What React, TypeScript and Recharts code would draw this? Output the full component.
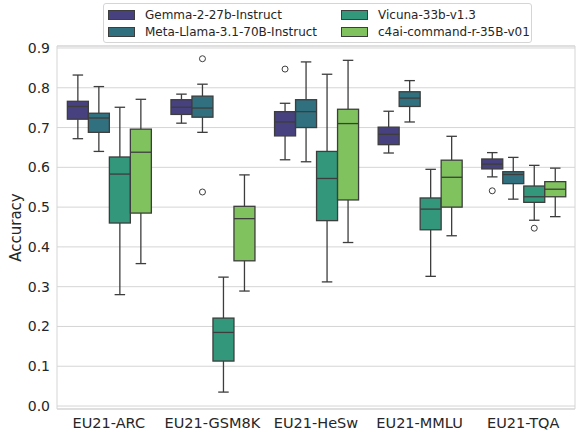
import React from 'react';
import { ComposedChart, Bar, XAxis, YAxis, CartesianGrid } from 'recharts';

const categories = ['EU21-ARC', 'EU21-GSM8K', 'EU21-HeSw', 'EU21-MMLU', 'EU21-TQA'];
const seriesNames = ['Gemma-2-27b-Instruct', 'Meta-Llama-3.1-70B-Instruct', 'Vicuna-33b-v1.3', 'c4ai-command-r-35B-v01'];
const seriesColors = ['#47417f', '#31707f', '#33977b', '#80c35e'];
const yTicks = [0, 0.1, 0.2, 0.3, 0.4, 0.5, 0.6, 0.7, 0.8, 0.9];

// [lower whisker, Q1, median, Q3, upper whisker]
const gemmaStats = [
  [0.672, 0.721, 0.753, 0.766, 0.832],
  [0.711, 0.733, 0.751, 0.770, 0.784],
  [0.619, 0.679, 0.714, 0.740, 0.761],
  [0.636, 0.657, 0.683, 0.701, 0.741],
  [0.576, 0.596, 0.608, 0.621, 0.637],
];
const llamaStats = [
  [0.640, 0.688, 0.724, 0.736, 0.803],
  [0.688, 0.726, 0.749, 0.779, 0.809],
  [0.614, 0.700, 0.740, 0.770, 0.865],
  [0.714, 0.753, 0.774, 0.790, 0.818],
  [0.520, 0.559, 0.582, 0.589, 0.625],
];
const vicunaStats = [
  [0.280, 0.460, 0.583, 0.626, 0.751],
  [0.035, 0.113, 0.185, 0.221, 0.324],
  [0.312, 0.466, 0.572, 0.640, 0.834],
  [0.326, 0.443, 0.495, 0.523, 0.595],
  [0.467, 0.512, 0.526, 0.553, 0.605],
];
const c4aiStats = [
  [0.358, 0.485, 0.638, 0.696, 0.771],
  [0.289, 0.365, 0.471, 0.502, 0.581],
  [0.411, 0.518, 0.710, 0.746, 0.869],
  [0.428, 0.500, 0.575, 0.618, 0.678],
  [0.476, 0.526, 0.545, 0.564, 0.598],
];
const gemmaOutliers = [[], [], [0.847], [], [0.541]];
const llamaOutliers = [[], [0.873, 0.538], [], [], []];
const vicunaOutliers = [[], [], [], [], [0.447]];
const c4aiOutliers = [[], [], [], [], []];

const allStats = [gemmaStats, llamaStats, vicunaStats, c4aiStats];
const allOutliers = [gemmaOutliers, llamaOutliers, vicunaOutliers, c4aiOutliers];

const data = categories.map((cat, i) => {
  const row: any = { cat };
  allStats.forEach((st, j) => {
    row[`r${j}`] = [st[i][0], st[i][4]];
  });
  return row;
});

const LINE = '#3d3d3d';
const FONT = 'DejaVu Sans, sans-serif';

const makeShape = (j: number) => (props: any) => {
  const { x, y, width, height, index } = props;
  const st = allStats[j][index];
  const outs = allOutliers[j][index];
  if (!st) return null;
  const [lo, q1, med, q3, hi] = st;
  let top = y;
  let h = height;
  if (h < 0) {
    top = y + h;
    h = -h;
  }
  const px = (v: number) => top + (h * (hi - v)) / (hi - lo);
  const cx = x + width / 2;
  const capHalf = width / 4;
  return (
    <g>
      <line x1={cx} x2={cx} y1={px(hi)} y2={px(q3)} stroke={LINE} strokeWidth={1.3} />
      <line x1={cx} x2={cx} y1={px(q1)} y2={px(lo)} stroke={LINE} strokeWidth={1.3} />
      <line x1={cx - capHalf} x2={cx + capHalf} y1={px(hi)} y2={px(hi)} stroke={LINE} strokeWidth={1.3} />
      <line x1={cx - capHalf} x2={cx + capHalf} y1={px(lo)} y2={px(lo)} stroke={LINE} strokeWidth={1.3} />
      <rect x={x} y={px(q3)} width={width} height={px(q1) - px(q3)} fill={seriesColors[j]} stroke={LINE} strokeWidth={1.3} />
      <line x1={x} x2={x + width} y1={px(med)} y2={px(med)} stroke={LINE} strokeWidth={1.3} />
      {outs.map((o: number, k: number) => (
        <circle key={k} cx={cx} cy={px(o)} r={3} fill="none" stroke={LINE} strokeWidth={1} />
      ))}
    </g>
  );
};

const Legend = () => (
  <div
    style={{
      position: 'absolute',
      left: 103,
      top: 3,
      width: 429,
      height: 40,
      border: '1px solid #d5d5d5',
      borderRadius: 3,
      background: 'rgba(255,255,255,0.85)',
      fontFamily: FONT,
      fontSize: 12,
      color: '#262626',
      boxSizing: 'border-box',
    }}
  >
    {seriesNames.map((n, j) => {
      const col = j < 2 ? 0 : 1;
      const row = j % 2;
      return (
        <div
          key={n}
          style={{
            position: 'absolute',
            left: col === 0 ? 4 : 237,
            top: row === 0 ? 3 : 20,
            height: 16,
            display: 'flex',
            alignItems: 'center',
            whiteSpace: 'nowrap',
          }}
        >
          <span
            style={{
              display: 'inline-block',
              width: 25,
              height: 8,
              background: seriesColors[j],
              border: `1px solid ${LINE}`,
              marginRight: 10,
            }}
          />
          <span>{n}</span>
        </div>
      );
    })}
  </div>
);

export default function App() {
  return (
    <div style={{ position: 'absolute', left: 0, top: 0, width: 578, height: 432, background: '#fff' }}>
      <ComposedChart
        width={578}
        height={432}
        data={data}
        margin={{ top: 46, right: 3, left: 0, bottom: 0 }}
        barGap={0}
        barCategoryGap="10%"
      >
        <CartesianGrid vertical={false} stroke="#d5d5d5" strokeWidth={1} />
        <CartesianGrid
          stroke="#d5d5d5"
          strokeWidth={1}
          horizontalCoordinatesGenerator={({ offset }: any) => [offset.top, offset.top + offset.height]}
          verticalCoordinatesGenerator={({ offset }: any) => [offset.left, offset.left + offset.width]}
        />
        <XAxis
          dataKey="cat"
          height={23}
          axisLine={false}
          tickLine={false}
          tickSize={0}
          tickMargin={9}
          tick={{ fontFamily: FONT, fontSize: 14.5, fill: '#262626' }}
          interval={0}
        />
        <YAxis
          width={57}
          domain={[-0.0075, 0.905]}
          ticks={yTicks}
          type="number"
          allowDataOverflow
          axisLine={false}
          tickLine={false}
          tickSize={0}
          tickMargin={7}
          tickFormatter={(v: number) => v.toFixed(1)}
          tick={{ fontFamily: FONT, fontSize: 14, fill: '#262626' }}
          label={{
            value: 'Accuracy',
            angle: -90,
            position: 'insideLeft',
            dx: 11,
            style: { fontFamily: FONT, fontSize: 15, fill: '#262626', textAnchor: 'middle' },
          }}
        />
        {seriesNames.map((n, j) => (
          <Bar key={n} dataKey={`r${j}`} name={n} isAnimationActive={false} shape={makeShape(j)} />
        ))}
      </ComposedChart>
      <Legend />
    </div>
  );
}
